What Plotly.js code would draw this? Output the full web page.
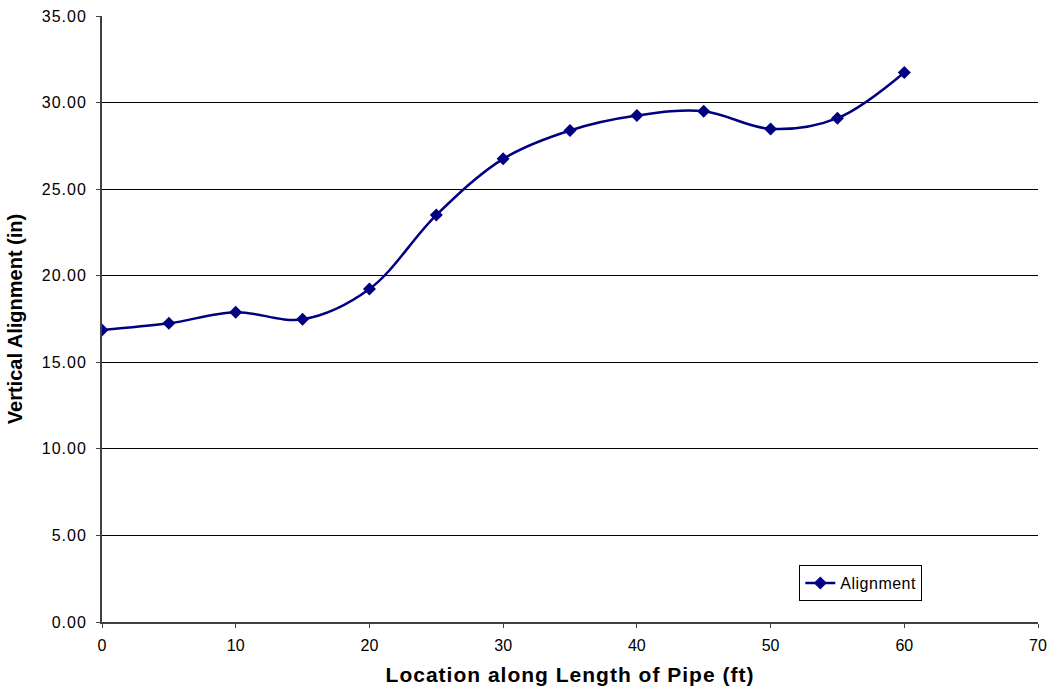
<!DOCTYPE html>
<html>
<head>
<meta charset="utf-8">
<script src="https://cdn.plot.ly/plotly-3.0.1.min.js"></script>
<style>html,body{margin:0;padding:0;background:#fff;}#chart{width:1047px;height:691px;}
.xtitle{letter-spacing:1px;}
.ytick text{letter-spacing:1px;}
.legendtext{letter-spacing:0.5px;}
</style>
</head>
<body>
<div id="chart"></div>
<script>
const location_ft = [0, 5, 10, 15, 20, 25, 30, 35, 40, 45, 50, 55, 60];
const alignment_in = [16.87, 17.25, 17.89, 17.48, 19.23, 23.50, 26.75, 28.39, 29.25, 29.50, 28.48, 29.10, 31.74];
const seriesName = "Alignment";
const xTitle = "Location along Length of Pipe (ft)";
const yTitle = "Vertical Alignment (in)";

const trace = {
  x: location_ft, y: alignment_in, name: seriesName,
  type: "scatter", mode: "lines+markers",
  line: {color: "#000080", width: 2.5, shape: "spline", smoothing: 1},
  marker: {symbol: "diamond", size: 10, color: "#000080"}
};
const FONT = "Liberation Sans, Arial, sans-serif";
const layout = {
  width: 1047, height: 691,
  margin: {l: 102, r: 9, t: 16, b: 69},
  paper_bgcolor: "#fff", plot_bgcolor: "#fff",
  font: {family: FONT, color: "#000", size: 16},
  showlegend: true,
  legend: {x: 0.745, y: 0.094, xanchor: "left", yanchor: "top", bordercolor: "#000", borderwidth: 1,
           bgcolor: "#fff", font: {size: 16}, itemwidth: 30},
  xaxis: {range: [0, 70], dtick: 10, tick0: 0, showgrid: false, zeroline: false,
          showline: true, linecolor: "#404040", linewidth: 2, ticks: "outside", ticklen: 4, tickcolor: "#404040",
          tickfont: {size: 16}, ticklabelstandoff: 4, ticklabeloverflow: "allow",
          title: {text: xTitle, font: {size: 21, family: FONT, weight: "bold"}, standoff: 14}},
  yaxis: {range: [0, 35], dtick: 5, tick0: 0, tickformat: ".2f", showgrid: true, gridcolor: "#000", gridwidth: 1,
          zeroline: false, showline: true, linecolor: "#404040", linewidth: 2, ticks: "outside", ticklen: 4, tickcolor: "#404040",
          tickfont: {size: 16}, ticklabelstandoff: 6,
          title: {text: yTitle, font: {size: 20, family: FONT, weight: "bold"}, standoff: 14}}
};
Plotly.newPlot("chart", [trace], layout, {displayModeBar: false, staticPlot: true});
</script>
</body>
</html>
